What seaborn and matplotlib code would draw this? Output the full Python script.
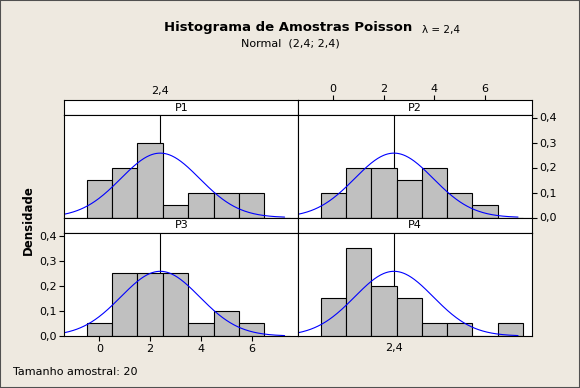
import numpy as np
import pandas as pd
import matplotlib
matplotlib.use('Agg')
import matplotlib.pyplot as plt
import seaborn as sns
from matplotlib.patches import Rectangle

sns.set_style('white')
plt.rcParams['font.family'] = ['DejaVu Sans']
plt.rcParams['text.color'] = 'black'
plt.rcParams['xtick.color'] = 'black'
plt.rcParams['ytick.color'] = 'black'
plt.rcParams['xtick.labelcolor'] = 'black'
plt.rcParams['ytick.labelcolor'] = 'black'

# ---- data ----
bins = [0, 1, 2, 3, 4, 5, 6, 7]
dens_p1 = [0.15, 0.20, 0.30, 0.05, 0.10, 0.10, 0.10, 0.00]
dens_p2 = [0.10, 0.20, 0.20, 0.15, 0.20, 0.10, 0.05, 0.00]
dens_p3 = [0.05, 0.25, 0.25, 0.25, 0.05, 0.10, 0.05, 0.00]
dens_p4 = [0.15, 0.35, 0.20, 0.15, 0.05, 0.05, 0.00, 0.05]
panels = ['P1', 'P2', 'P3', 'P4']
mu = 2.4
var = 2.4
xticks = [0, 2, 4, 6]
xtick_labels = ['0', '2', '4', '6']
yticks = [0.0, 0.1, 0.2, 0.3, 0.4]
ytick_labels = ['0,0', '0,1', '0,2', '0,3', '0,4']
ref_label = '2,4'
title = 'Histograma de Amostras Poisson'
subtitle = 'Normal  (2,4; 2,4)'
lam_text = 'λ = 2,4'
ylabel = 'Densidade'
footer = 'Tamanho amostral: 20'

dens = [dens_p1, dens_p2, dens_p3, dens_p4]

# ---- layout ----
W, H = 580, 388
BG = '#EEE9E0'
fig = plt.figure(figsize=(W / 100, H / 100), dpi=100, facecolor=BG)

def box(x0, y0, x1, y1):
    return [x0 / W, 1 - y1 / H, (x1 - x0) / W, (y1 - y0) / H]

xl, xm, xr = 64.3, 298.3, 531.7
rows = [(100.3, 115.0, 217.5), (217.5, 233.0, 336.0)]
cols = [(xl, xm), (xm, xr)]
XLIM = (-1.38, 7.84)
YLIM = (0.0, 0.41)
edges = [b - 0.5 for b in bins] + [bins[-1] + 0.5]

xc = np.linspace(XLIM[0], 7.3, 300)
yc = np.exp(-(xc - mu) ** 2 / (2 * var)) / np.sqrt(2 * np.pi * var)

LW = 0.8
for i, name in enumerate(panels):
    r, c = divmod(i, 2)
    s0, p0, p1 = rows[r]
    x0, x1 = cols[c]
    sax = fig.add_axes(box(x0, s0, x1, p0))
    ax = fig.add_axes(box(x0, p0, x1, p1))
    # strip
    sax.set_facecolor('white')
    sax.set_xlim(XLIM)
    sax.set_ylim(0, 1)
    sax.set_yticks([])
    sax.text(0.5, 0.5, name, transform=sax.transAxes, ha='center', va='center',
             fontsize=8, color='black')
    for sp in sax.spines.values():
        sp.set_color('black'); sp.set_linewidth(LW)
    sax.tick_params(axis='x', bottom=False, labelbottom=False)
    if i == 0:
        sax.set_xticks([mu], [ref_label])
        sax.tick_params(axis='x', top=True, labeltop=True, length=0, pad=3, labelsize=8)
    elif i == 1:
        sax.set_xticks(xticks, xtick_labels)
        sax.tick_params(axis='x', top=True, labeltop=True, length=3.5, width=LW,
                        direction='out', pad=1, labelsize=8, color='black')
    else:
        sax.set_xticks([])

    # panel
    ax.set_facecolor('white')
    df = pd.DataFrame({'x': bins, 'w': dens[i]})
    ax.axvline(mu, color='black', lw=LW, zorder=1)
    sns.histplot(data=df, x='x', weights='w', bins=edges, stat='count',
                 color='#C0C0C0', edgecolor='black', linewidth=LW, alpha=1,
                 ax=ax, zorder=2)
    sns.lineplot(x=xc, y=yc, color='#0000FF', lw=0.8, ax=ax, zorder=3)
    ax.set_xlim(XLIM)
    ax.set_ylim(YLIM)
    ax.set_xlabel('')
    ax.set_ylabel('')
    for sp in ax.spines.values():
        sp.set_color('black'); sp.set_linewidth(LW)
        sp.set_zorder(4)
    ax.tick_params(axis='both', left=False, bottom=False, labelleft=False,
                   labelbottom=False)
    if i == 1:
        ax.set_yticks(yticks, ytick_labels)
        ax.tick_params(axis='y', right=True, labelright=True, length=3.5, width=LW,
                       direction='out', pad=2, labelsize=8, color='black')
    elif i == 2:
        ax.set_yticks(yticks, ytick_labels)
        ax.tick_params(axis='y', left=True, labelleft=True, length=3.5, width=LW,
                       direction='out', pad=2, labelsize=8, color='black')
        ax.set_xticks(xticks, xtick_labels)
        ax.tick_params(axis='x', bottom=True, labelbottom=True, length=3.5, width=LW,
                       direction='out', pad=2, labelsize=8, color='black')
    elif i == 3:
        ax.set_xticks([mu], [ref_label])
        ax.tick_params(axis='x', bottom=True, labelbottom=True, length=0, pad=5,
                       labelsize=8)
    if i in (0, 3):
        ax.set_yticks([])
    if i in (0, 1):
        ax.set_xticks([])

fig.text(288 / W, 1 - 28 / H, title, ha='center', va='center', fontsize=9.5,
         fontweight='bold', color='black')
fig.text(290 / W, 1 - 43 / H, subtitle, ha='center', va='center', fontsize=8,
         color='black')
fig.text(422 / W, 1 - 30 / H, lam_text, ha='left', va='center', fontsize=7.5,
         family=['Liberation Sans Narrow', 'DejaVu Sans'], color='black')
fig.text(28 / W, 1 - 220 / H, ylabel, ha='center', va='center', rotation=90,
         fontsize=8.5, fontweight='bold', color='black')
fig.text(13 / W, 1 - 372 / H, footer, ha='left', va='center', fontsize=8,
         color='black')

fig.add_artist(Rectangle((0, 0), 1, 1, transform=fig.transFigure, fill=False,
                         edgecolor='#505050', lw=1.5))

fig.savefig('out.png', dpi=100, facecolor=BG)
